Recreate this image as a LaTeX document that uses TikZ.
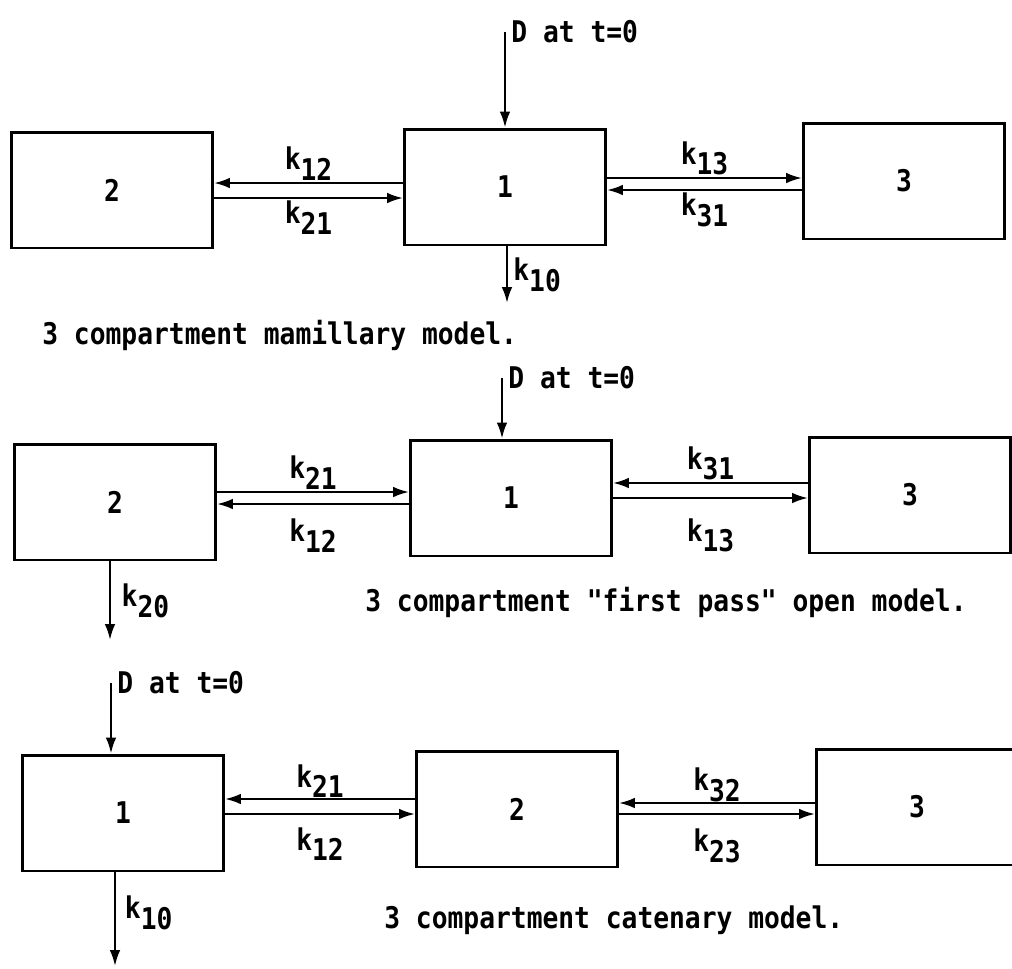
\documentclass[tikz,border=0pt]{standalone}
\usepackage{fontspec}
\setmonofont{DejaVu Sans Mono}[FakeStretch=0.88]
\usetikzlibrary{arrows.meta}
\newcommand{\rate}[1]{k\raisebox{-0.65ex}{#1}}

\begin{document}
\begin{tikzpicture}[x=0.02cm, y=-0.02cm,
	font=\ttfamily\bfseries\fontsize{17}{20}\selectfont,
	box/.style={draw, line width=1.7pt, minimum width=4.02cm, minimum height=2.32cm, inner sep=0pt},
	flow/.style={line width=1.3pt, -{Latex[length=9pt,width=6pt]}},
	rate/.style={inner sep=1pt},
	caption/.style={anchor=west, inner sep=0pt}]
	\useasboundingbox (0,0) rectangle (1012,968);
	% mamillary model
	\node[box] (m2) at (112,190) {2};
	\node[box] (m1) at (505,187) {1};
	\node[box] (m3) at (904,181) {3};
	\coordinate (mdose) at (505,32);
	\coordinate (mout) at (507,303);
	\draw[flow] (mdose) node[right, inner sep=3pt] {D at t=0} -- (m1.north);
	\draw[flow] (m1.west |- 0,183) -- node[midway, above, rate] {\rate{12}} (m2.east |- 0,183);
	\draw[flow] (m2.east |- 0,198) -- node[midway, below, rate] {\rate{21}} (m1.west |- 0,198);
	\draw[flow] (m1.east |- 0,178) -- node[midway, above, rate] {\rate{13}} (m3.west |- 0,178);
	\draw[flow] (m3.west |- 0,190) -- node[midway, below, rate] {\rate{31}} (m1.east |- 0,190);
	\draw[flow] (m1.south -| mout) -- node[midway, right, inner sep=3pt] {\rate{10}} (mout);
	\node[caption] (mcap) at (42,335) {3 compartment mamillary model.};
	% first pass model
	\node[box] (f2) at (115,502) {2};
	\node[box] (f1) at (511,498) {1};
	\node[box] (f3) at (910,495) {3};
	\coordinate (fdose) at (502,378);
	\coordinate (fout) at (110,640);
	\draw[flow] (fdose) node[right, inner sep=3pt] {D at t=0} -- (f1.north -| fdose);
	\draw[flow] (f2.east |- 0,492) -- node[midway, above, rate] {\rate{21}} (f1.west |- 0,492);
	\draw[flow] (f1.west |- 0,504) -- node[midway, below=7pt, rate] {\rate{12}} (f2.east |- 0,504);
	\draw[flow] (f3.west |- 0,483) -- node[midway, above, rate] {\rate{31}} (f1.east |- 0,483);
	\draw[flow] (f1.east |- 0,498) -- node[midway, below=10pt, rate] {\rate{13}} (f3.west |- 0,498);
	\draw[flow] (f2.south -| fout) -- node[midway, right=5pt, rate] {\rate{20}} (fout);
	\node[caption] (fcap) at (365,602) {3 compartment "first pass" open model.};
	% catenary model
	\node[box] (c1) at (123,813) {1};
	\node[box] (c2) at (517,809) {2};
	\node[box] (c3) at (917,807) {3};
	\coordinate (cdose) at (111,683);
	\coordinate (cout) at (115,966);
	\draw[flow] (cdose) node[right, inner sep=3pt] {D at t=0} -- (c1.north -| cdose);
	\draw[flow] (c2.west |- 0,799) -- node[midway, above, inner sep=0pt] {\rate{21}} (c1.east |- 0,799);
	\draw[flow] (c1.east |- 0,814) -- node[midway, below=6pt, rate] {\rate{12}} (c2.west |- 0,814);
	\draw[flow] (c3.west |- 0,803) -- node[midway, above, inner sep=0pt] {\rate{32}} (c2.east |- 0,803);
	\draw[flow] (c2.east |- 0,814) -- node[midway, below=7pt, rate] {\rate{23}} (c3.west |- 0,814);
	\draw[flow] (c1.south -| cout) -- node[pos=0.43, right=4pt, rate] {\rate{10}} (cout);
	\node[caption] (ccap) at (384,920) {3 compartment catenary model.};
\end{tikzpicture}
\end{document}
